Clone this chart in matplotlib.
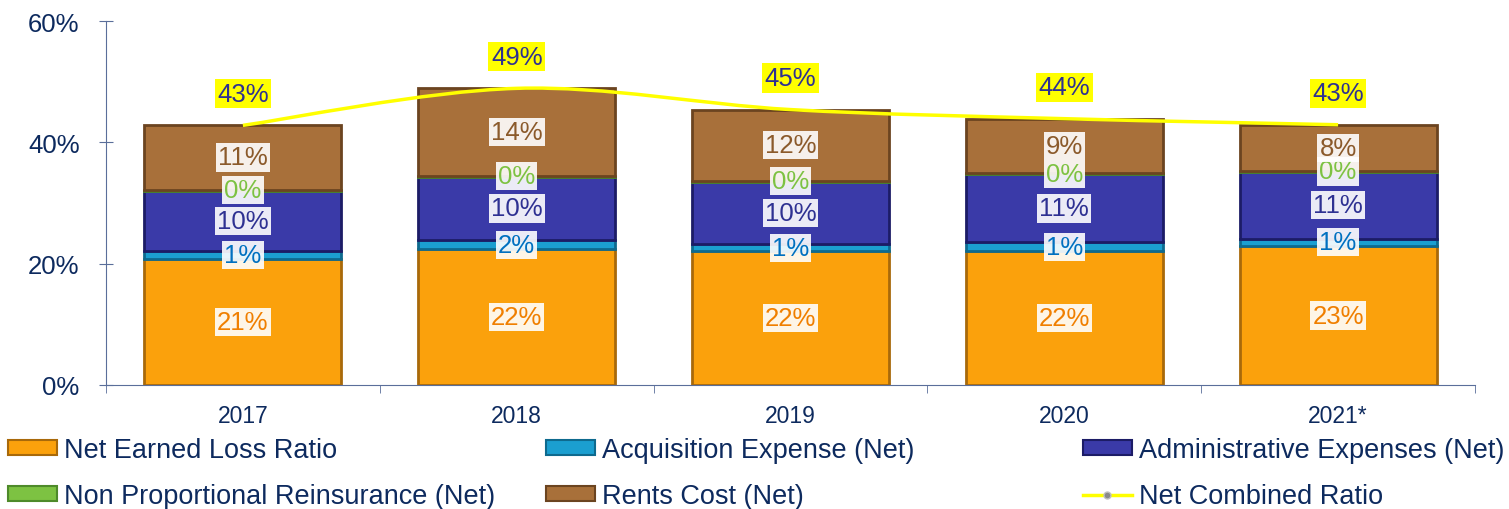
import numpy as np
import matplotlib.pyplot as plt
from matplotlib.patches import Rectangle, Path, PathPatch
from matplotlib.lines import Line2D

plt.rcParams['font.family'] = ['Liberation Sans', 'DejaVu Sans']

years = ['2017', '2018', '2019', '2020', '2021*']
loss = [20.8, 22.4, 22.1, 22.1, 22.9]
acq = [1.3, 1.5, 1.1, 1.4, 1.2]
admin = [9.9, 10.4, 10.3, 11.2, 11.0]
npr = [0.2, 0.2, 0.2, 0.2, 0.2]
rents = [10.6, 14.4, 11.7, 9.0, 7.6]
combined = [42.8, 48.9, 45.4, 43.9, 42.9]

series = [
    ('Net Earned Loss Ratio', loss, '#FBA10C', '#A8690A', '#F07F00'),
    ('Acquisition Expense (Net)', acq, '#1B9FD0', '#0E6A8E', '#0070C0'),
    ('Administrative Expenses (Net)', admin, '#3A3AA8', '#1C1C66', '#2E3192'),
    ('Non Proportional Reinsurance (Net)', npr, '#7DC242', '#4E8A2A', '#7DC242'),
    ('Rents Cost (Net)', rents, '#A8703A', '#6B4420', '#8B5A2B'),
]
navy = '#0D2A5E'

fig = plt.figure(figsize=(15.09, 5.10), dpi=100)
ax = fig.add_axes([106 / 1509, 1 - 386 / 510, (1475 - 106) / 1509, 364 / 510])

x = np.arange(len(years))
width = 0.72
bottom = np.zeros(len(years))
for name, vals, fc, ec, tc in series:
    vals = np.array(vals)
    ax.bar(x, vals, width, bottom=bottom, color=fc, edgecolor=ec, linewidth=2, zorder=2)
    for xi, b, v in zip(x, bottom, vals):
        ax.text(xi, b + v / 2, f'{v:.0f}%', ha='center', va='center', fontsize=18.5,
                color=tc, zorder=5,
                bbox=dict(boxstyle='square,pad=0.08', fc='white', ec='none', alpha=0.9))
    bottom += vals

# smoothed combined ratio line (Bezier through the points)
pts = np.column_stack([x, combined])
verts = [pts[0]]
codes = [Path.MOVETO]
for i in range(len(pts) - 1):
    p0 = pts[max(i - 1, 0)]
    p1 = pts[i]
    p2 = pts[i + 1]
    p3 = pts[min(i + 2, len(pts) - 1)]
    verts += [p1 + (p2 - p0) / 6, p2 - (p3 - p1) / 6, p2]
    codes += [Path.CURVE4] * 3
ax.add_patch(PathPatch(Path(verts, codes), fill=False, edgecolor='#FFFF00', lw=2.5, zorder=4))

for xi, v in zip(x, combined):
    ax.text(xi, v + 5.2, f'{v:.0f}%', ha='center', va='center', fontsize=18.5,
            color='#2E3192', zorder=6,
            bbox=dict(boxstyle='square,pad=0.1', fc='#FFFF00', ec='none'))

ax.set_xlim(-0.5, len(years) - 0.5)
ax.set_ylim(0, 60)
ax.set_yticks([0, 20, 40, 60])
ax.set_yticklabels(['0%', '20%', '40%', '60%'], fontsize=18.5, color=navy)
ax.set_xticks(x)
ax.set_xticklabels(years, fontsize=16.5, color=navy)
ax.set_xticks(np.arange(-0.5, len(years)), minor=True)
ax.tick_params(axis='x', which='major', length=0, pad=14)
ax.tick_params(axis='x', which='minor', length=6, direction='out', color='#5A6E9A')
ax.tick_params(axis='y', length=10, direction='inout', color='#5A6E9A', pad=14)
for s in ['top', 'right']:
    ax.spines[s].set_visible(False)
ax.spines['left'].set_color('#5A6E9A')
ax.spines['bottom'].set_color('#5A6E9A')

handles = [Rectangle((0, 0), 1, 1, fc=fc, ec=ec, lw=1.5) for _, _, fc, ec, _ in series]
handles.append(Line2D([], [], color='#FFFF00', lw=2.5, marker='o', markersize=5,
                      markerfacecolor='#8A8A8A', markeredgecolor='#C0C0C0'))
labels = [s[0] for s in series] + ['Net Combined Ratio']

cols = [[0, 3], [1, 4], [2, 5]]
xpos = [8, 546, 1083]
for c, xp in zip(cols, xpos):
    fig.legend([handles[i] for i in c], [labels[i] for i in c], loc='upper left',
               bbox_to_anchor=(xp / 1509, 1 - 438 / 510), frameon=False, fontsize=19.5,
               handlelength=1.8, handleheight=0.45, handletextpad=0.25, labelspacing=0.75,
               borderpad=0, borderaxespad=0, labelcolor=navy)

fig.savefig('out.png', dpi=100)
